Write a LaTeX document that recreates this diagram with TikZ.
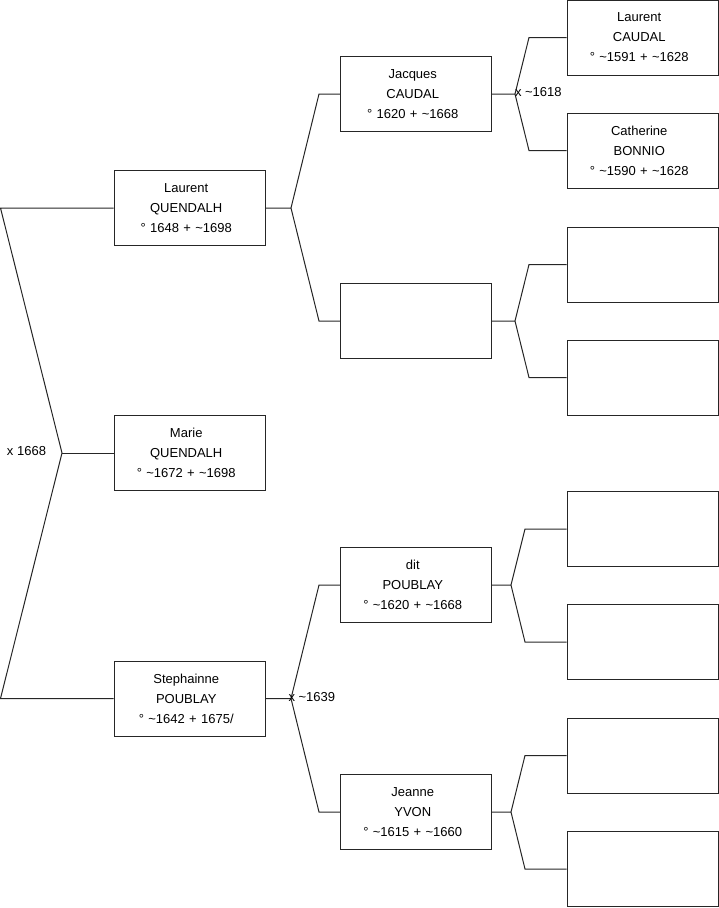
\documentclass[tikz,border=0pt]{standalone}
\usepackage{fontspec}
\setmainfont{Liberation Sans}
\begin{document}
\begin{tikzpicture}[x=1pt,y=-1pt,line width=1pt,
  person/.style={draw=black!85,rectangle,minimum width=151pt,minimum height=75pt,inner sep=0pt,text width=151pt,align=center,execute at begin node={\advance\rightskip by 6.5pt},font=\fontsize{13}{20}\selectfont},
  wedding/.style={inner sep=0pt,font=\fontsize{13}{14}\selectfont}]
\useasboundingbox (0,0) rectangle (719,908);
\node[person] (lq) at (189.5,208) {Laurent\\QUENDALH\\° 1648 + \textasciitilde1698};
\node[person] (mq) at (189.5,453) {Marie\\QUENDALH\\° \textasciitilde1672 + \textasciitilde1698};
\node[person] (sp) at (189.5,698.5) {Stephainne\\POUBLAY\\° \textasciitilde1642 + 1675/};
\node[person] (jc) at (416,94) {Jacques\\CAUDAL\\° 1620 + \textasciitilde1668};
\node[person] (e1) at (416,321) {};
\node[person] (dp) at (416,585) {dit\\POUBLAY\\° \textasciitilde1620 + \textasciitilde1668};
\node[person] (jy) at (416,812) {Jeanne\\YVON\\° \textasciitilde1615 + \textasciitilde1660};
\node[person] (lc) at (642.5,37.5) {Laurent\\CAUDAL\\° \textasciitilde1591 + \textasciitilde1628};
\node[person] (cb) at (642.5,150.5) {Catherine\\BONNIO\\° \textasciitilde1590 + \textasciitilde1628};
\node[person] (e2) at (642.5,264.5) {};
\node[person] (e3) at (642.5,377.5) {};
\node[person] (e4) at (642.5,529) {};
\node[person] (e5) at (642.5,642) {};
\node[person] (e6) at (642.5,755.5) {};
\node[person] (e7) at (642.5,869) {};
\coordinate (j0) at (62,453);
\coordinate (j1) at (291,208);
\coordinate (j2) at (291,698.5);
\coordinate (j3) at (515,94);
\coordinate (j4) at (515,321);
\coordinate (j5) at (511,585);
\coordinate (j6) at (511,812);
\coordinate (a1) at (0.5,208);
\coordinate (a2) at (0.5,698.5);
% couples
\draw[black!85] (lq.west) -- (a1) -- (j0) -- (a2) -- (sp.west);
\draw[black!85] (j0) -- (mq.west);
\foreach \c/\j/\f/\m/\d in {lq/j1/jc/e1/28,sp/j2/dp/jy/28,jc/j3/lc/cb/14,e1/j4/e2/e3/14,dp/j5/e4/e5/14,jy/j6/e6/e7/14}
  \draw[black!85] (\c.east) -- (\j) -- ([xshift=\d pt]\j |- \f.west) -- (\f.west)
    (\j) -- ([xshift=\d pt]\j |- \m.west) -- (\m.west);
\node[wedding,anchor=east] (w0) at (46.5,451) {x 1668};
\node[wedding,anchor=west] (w1) at (288,697) {x \textasciitilde1639};
\node[wedding,anchor=west] (w2) at (514.5,92.5) {x \textasciitilde1618};
\end{tikzpicture}
\end{document}
